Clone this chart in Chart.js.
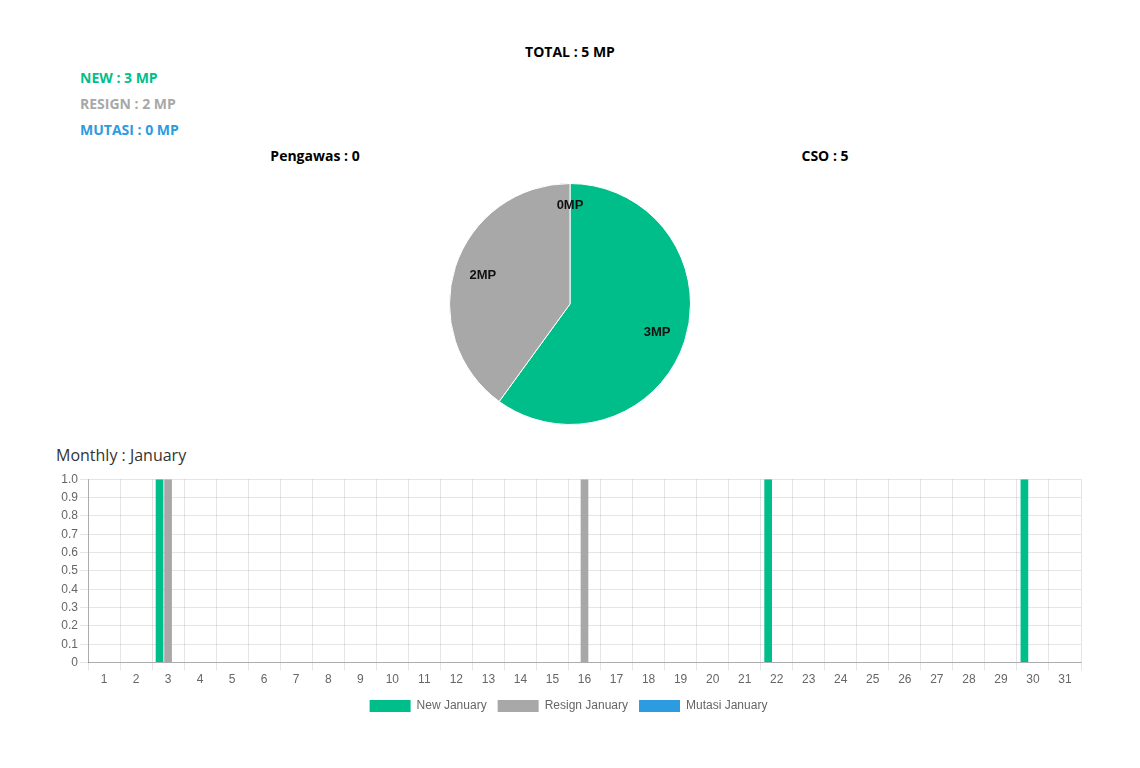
<!DOCTYPE html>
<html>
<head>
<meta charset="utf-8">
<script src="https://cdn.jsdelivr.net/npm/chart.js@4.4.1/dist/chart.umd.min.js"></script>
<style>
  body { margin: 0; background: #fff; width: 1140px; height: 768px; position: relative; overflow: hidden; font-family: 'Open Sans', sans-serif; }
  .txt { position: absolute; white-space: nowrap; line-height: 20px; font-size: 14px; font-weight: bold; }
  .center { transform: translateX(-50%); }
  #pie-wrap { position: absolute; left: 449px; top: 183px; width: 242px; height: 242px; }
  #bar-wrap { position: absolute; left: 56px; top: 470px; width: 1034px; height: 254px; }
</style>
</head>
<body>
<div class="txt center" style="left:570px; top:42px; color:#000;">TOTAL : 5 MP</div>
<div class="txt" style="left:80px; top:68px; color:#00be8a;">NEW : 3 MP</div>
<div class="txt" style="left:80px; top:94px; color:#a8a8a8;">RESIGN : 2 MP</div>
<div class="txt" style="left:80px; top:120px; color:#2d9be0;">MUTASI : 0 MP</div>
<div class="txt center" style="left:315px; top:146px; color:#000;">Pengawas : 0</div>
<div class="txt center" style="left:825px; top:146px; color:#000;">CSO : 5</div>
<div class="txt" style="left:56px; top:445px; color:#333; font-weight:normal; font-size:16px;">Monthly : January</div>

<div id="pie-wrap"><canvas id="pie-chart"></canvas></div>
<div id="bar-wrap"><canvas id="monthly-chart"></canvas></div>

<script>
// Summary pie
const pieLabels = ['New', 'Resign', 'Mutasi'];
const pieValues = [3, 2, 0];
const pieColors = ['#00be8a', '#a8a8a8', '#2d9be0'];

// Monthly bars (days of January)
const days = ['1','2','3','4','5','6','7','8','9','10','11','12','13','14','15','16','17','18','19','20','21','22','23','24','25','26','27','28','29','30','31'];
const newJanuary    = [0,0,1,0,0,0,0,0,0,0,0,0,0,0,0,0,0,0,0,0,0,1,0,0,0,0,0,0,0,1,0];
const resignJanuary = [0,0,1,0,0,0,0,0,0,0,0,0,0,0,0,1,0,0,0,0,0,0,0,0,0,0,0,0,0,0,0];
const mutasiJanuary = [0,0,0,0,0,0,0,0,0,0,0,0,0,0,0,0,0,0,0,0,0,0,0,0,0,0,0,0,0,0,0];

Chart.defaults.font.family = "'Liberation Sans', Arial, sans-serif";
Chart.defaults.font.size = 12;
Chart.defaults.color = '#666';

// draws "xMP" inside each slice
const sliceLabels = {
  id: 'sliceLabels',
  afterDatasetsDraw(chart) {
    const ctx = chart.ctx;
    const meta = chart.getDatasetMeta(0);
    ctx.save();
    ctx.font = "bold 13px 'Liberation Sans', Arial, sans-serif";
    ctx.fillStyle = '#111';
    ctx.textAlign = 'center';
    ctx.textBaseline = 'middle';
    meta.data.forEach((arc, i) => {
      const mid = (arc.startAngle + arc.endAngle) / 2;
      const r = arc.outerRadius * (pieValues[i] === 0 ? 0.82 : 0.76);
      ctx.fillText(pieValues[i] + 'MP', arc.x + Math.cos(mid) * r, arc.y + Math.sin(mid) * r);
    });
    ctx.restore();
  }
};

new Chart(document.getElementById('pie-chart'), {
  type: 'pie',
  data: {
    labels: pieLabels,
    datasets: [{
      data: pieValues,
      backgroundColor: pieColors,
      borderColor: '#fff',
      borderWidth: 1
    }]
  },
  options: {
    responsive: true,
    maintainAspectRatio: false,
    animation: false,
    plugins: { legend: { display: false }, tooltip: { enabled: false } }
  },
  plugins: [sliceLabels]
});

new Chart(document.getElementById('monthly-chart'), {
  type: 'bar',
  data: {
    labels: days,
    datasets: [
      { label: 'New January', data: newJanuary, backgroundColor: pieColors[0], borderColor: pieColors[0] },
      { label: 'Resign January', data: resignJanuary, backgroundColor: pieColors[1], borderColor: pieColors[1] },
      { label: 'Mutasi January', data: mutasiJanuary, backgroundColor: pieColors[2], borderColor: pieColors[2] }
    ]
  },
  options: {
    responsive: true,
    maintainAspectRatio: false,
    animation: false,
    layout: { padding: { right: 9, top: 4, bottom: 2 } },
    plugins: {
      legend: {
        position: 'bottom',
        labels: { boxWidth: 41, boxHeight: 12, padding: 11, color: '#666' }
      },
      tooltip: { enabled: false }
    },
    scales: {
      x: {
        grid: { color: 'rgba(0,0,0,0.1)', offset: true, tickLength: 8 },
        border: { color: 'rgba(0,0,0,0.25)' },
        ticks: { color: '#666', padding: 2, maxRotation: 0, autoSkip: false }
      },
      y: {
        min: 0,
        max: 1,
        afterFit(scale) { scale.width = 32; },
        grid: { color: 'rgba(0,0,0,0.1)', tickLength: 8 },
        border: { color: 'rgba(0,0,0,0.25)' },
        ticks: {
          stepSize: 0.1,
          color: '#666',
          padding: 2,
          callback: v => v === 0 ? '0' : v.toFixed(1)
        }
      }
    }
  }
});
</script>
</body>
</html>
